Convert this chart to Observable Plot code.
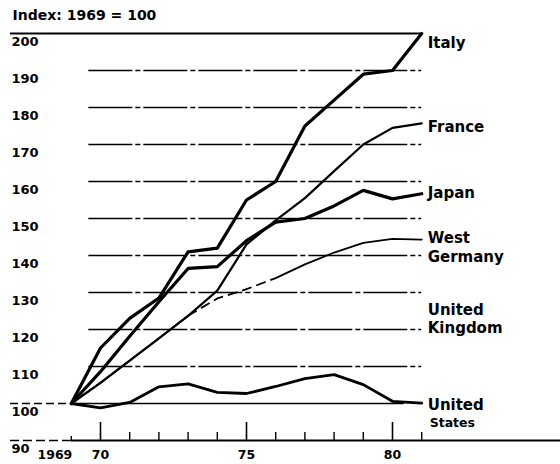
<!DOCTYPE html>
<html>
<head>
<meta charset="utf-8">
<script src="https://cdn.jsdelivr.net/npm/d3@7"></script>
<script src="https://cdn.jsdelivr.net/npm/@observablehq/plot@0.6"></script>
<style>
  html, body { margin: 0; padding: 0; background: #fff; }
  #chart svg { display: block; }
</style>
</head>
<body>
<div id="chart"></div>
<script>
// ---- data ----
const years = [1969, 1970, 1971, 1972, 1973, 1974, 1975, 1976, 1977, 1978, 1979, 1980, 1981];
const italy        = [100, 115, 123, 128.5, 141, 142, 155, 160, 175, 182, 189, 190, 200];
const france       = [100, 105.6, 111.6, 117.6, 123.7, 130.5, 143, 149.5, 155.5, 162.8, 170, 174.5, 175.7];
const japan        = [100, 108.6, 118.2, 127.5, 136.5, 137, 144, 149, 150, 153.4, 157.6, 155.3, 156.7];
const westGermany  = [100, 105.6, 111.6, 117.6, 123.7, 128.4, 130.9, 133.9, 137.6, 140.8, 143.4, 144.5, 144.3];
const unitedStates = [100, 98.8, 100.3, 104.5, 105.3, 103, 102.7, 104.6, 106.7, 107.8, 105.1, 100.6, 100.1];

const yTicks = [90, 100, 110, 120, 130, 140, 150, 160, 170, 180, 190, 200];
const gridValues = [110, 120, 130, 140, 150, 160, 170, 180, 190];
const majorYears = [1970, 1975, 1980];
const minorYears = [1971, 1972, 1973, 1974, 1976, 1977, 1978, 1979, 1981];
const xLabelYears = [1970, 1975, 1980];
const xLabelText = ["70", "75", "80"];
const firstYearLabel = "1969";
const titleText = "Index: 1969 = 100";

const labelText  = ["Italy", "France", "Japan", "West", "Germany", "United", "Kingdom", "United"];
const labelValue = [197.3, 174.6, 156.8, 144.6, 139.5, 125.1, 120.3, 99.5];
const smallLabelText = ["States"];
const smallLabelValue = [94.6];

// ---- build tables ----
const rows = (vals) => years.map((year, i) => ({year, value: vals[i]}));
const italyRows = rows(italy), franceRows = rows(france), japanRows = rows(japan),
      wgRows = rows(westGermany), usRows = rows(unitedStates);

const xMin = 1970 - 90 / 29.2, xMax = 1970 + 460 / 29.2;
const font = '"DejaVu Sans", "Liberation Sans", sans-serif';

const lineOpts = {x: "year", y: "value", stroke: "#000", strokeLinejoin: "round", strokeLinecap: "round"};

const chart = Plot.plot({
  width: 560,
  height: 464,
  marginTop: 33,
  marginBottom: 24,
  marginLeft: 10,
  marginRight: 0,
  x: {domain: [xMin, xMax], axis: null},
  y: {domain: [90, 200], axis: null},
  style: {fontFamily: font, fontWeight: "bold", background: "#fff", color: "#000"},
  marks: [
    // gridlines
    Plot.ruleY(gridValues, {y: d => d, x1: 1969.6, x2: 1981, stroke: "#000", strokeWidth: 1.4, strokeDasharray: "44,3,5,3"}),
    // 100 baseline
    Plot.ruleY([100], {y: d => d, x1: xMin, x2: 1969, stroke: "#000", strokeWidth: 1.4, strokeDasharray: "8,4"}),
    Plot.ruleY([100], {y: d => d, x1: 1969, x2: 1980.4, stroke: "#000", strokeWidth: 1.6}),
    // top 200 line
    Plot.ruleY([200], {y: d => d, x1: xMin, x2: 1981, stroke: "#000", strokeWidth: 2}),
    // x axis line
    Plot.ruleY([90], {y: d => d, x1: xMin, x2: 1969, stroke: "#000", strokeWidth: 1.6, strokeDasharray: "9,4"}),
    Plot.ruleY([90], {y: d => d, x1: 1969, x2: xMax, stroke: "#000", strokeWidth: 1.8}),
    // ticks
    Plot.ruleX(majorYears, {x: d => d, y1: 90, y2: 90 + 18 / 3.7, stroke: "#000", strokeWidth: 1.6}),
    Plot.ruleX(minorYears, {x: d => d, y1: 90, y2: 90 + 8 / 3.7, stroke: "#000", strokeWidth: 1.4}),
    Plot.ruleX([1969], {x: d => d, y1: 90, y2: 90 + 4 / 3.7, stroke: "#000", strokeWidth: 1.4}),
    // series
    Plot.line(wgRows.filter(d => d.year <= 1973), {...lineOpts, strokeWidth: 1.8}),
    Plot.line(wgRows.filter(d => d.year >= 1973 && d.year <= 1976), {...lineOpts, strokeWidth: 1.8, strokeDasharray: "10,5", strokeLinecap: "butt"}),
    Plot.line(wgRows.filter(d => d.year >= 1976), {...lineOpts, strokeWidth: 1.8}),
    Plot.line(franceRows, {...lineOpts, strokeWidth: 2.2}),
    Plot.line(japanRows, {...lineOpts, strokeWidth: 3.2}),
    Plot.line(italyRows, {...lineOpts, strokeWidth: 3.2}),
    Plot.line(usRows, {...lineOpts, strokeWidth: 2.8}),
    // y labels
    Plot.text(yTicks, {x: xMin, y: d => d, text: d => String(d), textAnchor: "start", dx: 1, dy: 8, fontSize: 13, fill: "#000"}),
    // x labels
    Plot.text(xLabelYears, {x: d => d, y: 90, text: (d, i) => xLabelText[i], dy: 14, fontSize: 12.5, fill: "#000"}),
    Plot.text([1969], {x: d => d, y: 90, text: () => firstYearLabel, textAnchor: "end", dx: 1, dy: 14, fontSize: 12.5, fill: "#000"}),
    // title
    Plot.text([titleText], {x: xMin, y: 200, text: d => d, textAnchor: "start", dx: 2, dy: -18, fontSize: 14, fill: "#000"}),
    // series labels
    Plot.text(labelText, {x: 1981, y: (d, i) => labelValue[i], text: d => d, textAnchor: "start", dx: 6, fontSize: 15, fill: "#000"}),
    Plot.text(smallLabelText, {x: 1981, y: (d, i) => smallLabelValue[i], text: d => d, textAnchor: "start", dx: 8, fontSize: 12.5, fill: "#000"})
  ]
});
document.getElementById("chart").appendChild(chart);
</script>
</body>
</html>
